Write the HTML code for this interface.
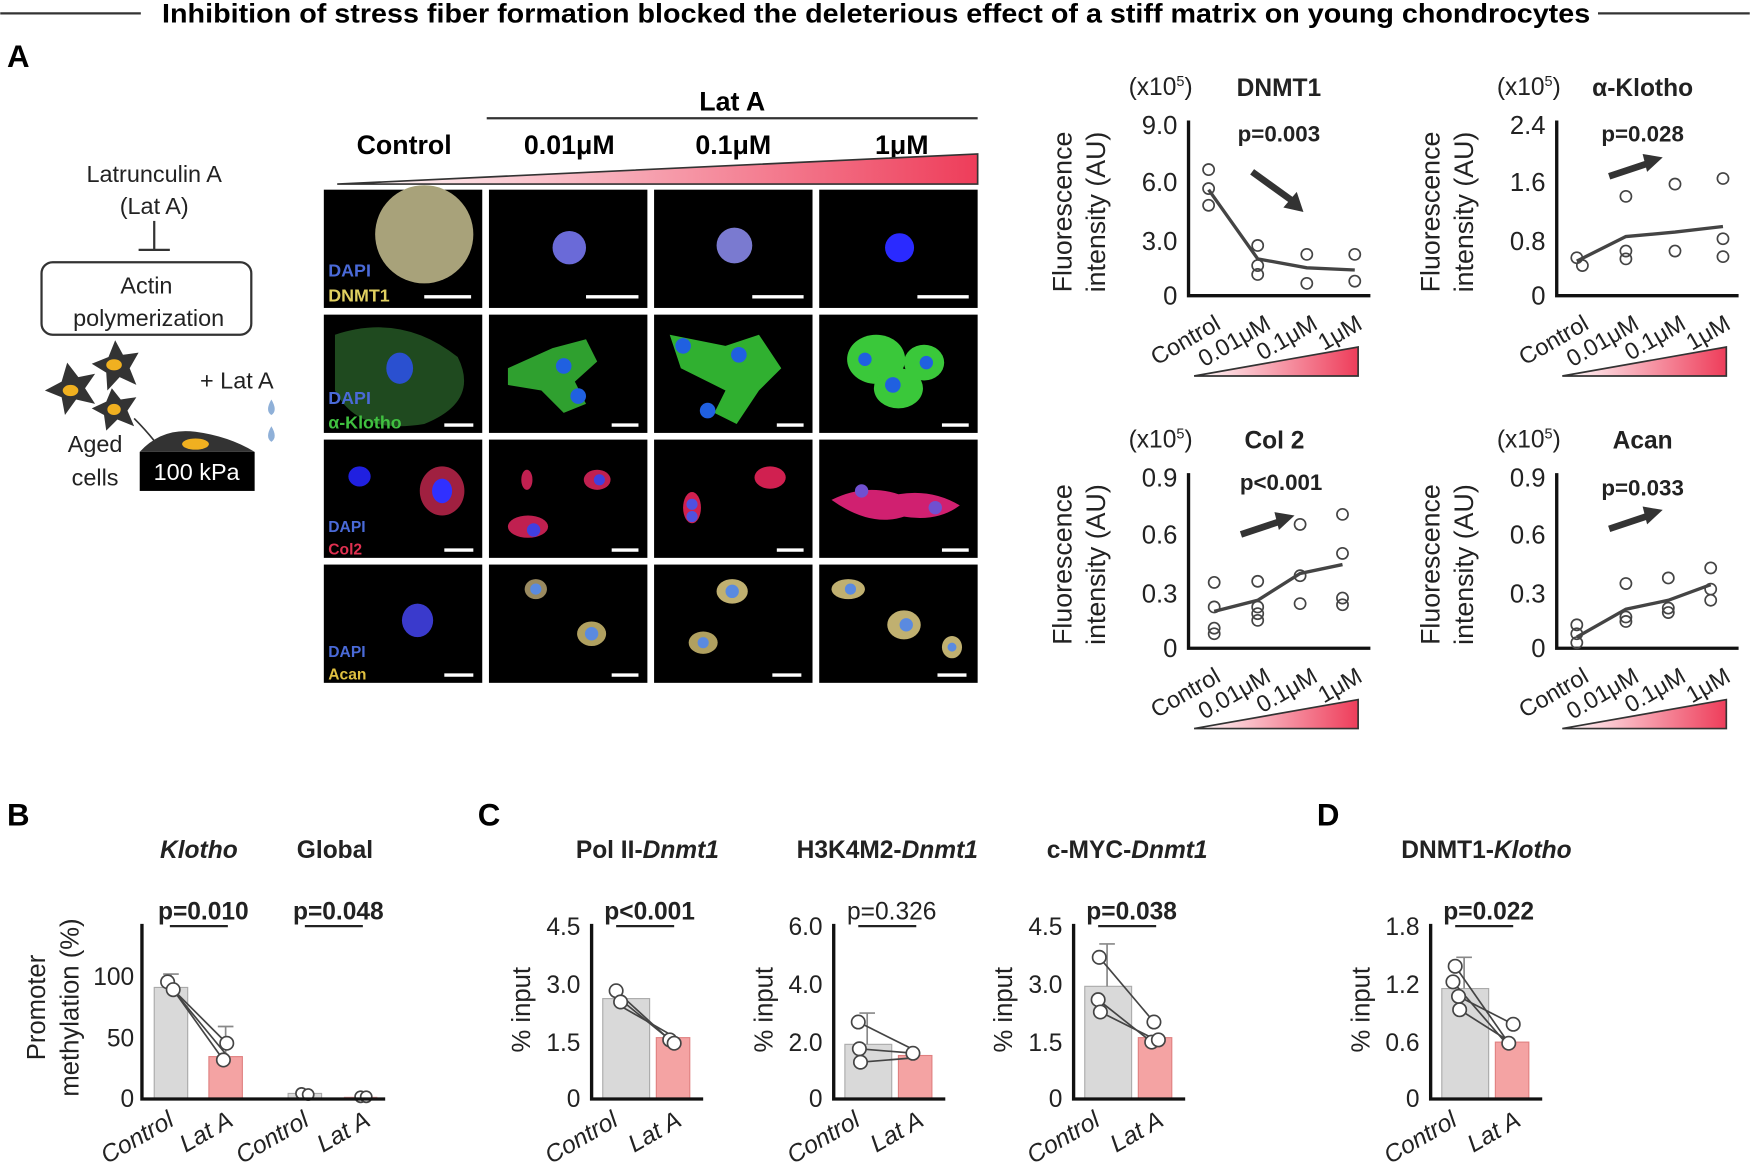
<!DOCTYPE html>
<html><head><meta charset="utf-8"><style>
html,body{margin:0;padding:0;background:#fff;}
svg{display:block;font-family:"Liberation Sans",Arial,sans-serif;}
</style></head><body>
<svg width="1750" height="1176" viewBox="0 0 1568 1054" xmlns="http://www.w3.org/2000/svg">
<defs>
<linearGradient id="g" x1="0" x2="1" y1="0" y2="0"><stop offset="0" stop-color="#fff"/><stop offset="1" stop-color="#ee3d5a"/></linearGradient>
</defs>
<!-- title -->
<line x1="0" y1="12" x2="126" y2="12" stroke="#333" stroke-width="2"/>
<line x1="1432" y1="12" x2="1568" y2="12" stroke="#333" stroke-width="2"/>
<text x="785" y="20" font-size="24" font-weight="bold" text-anchor="middle" textLength="1280" lengthAdjust="spacingAndGlyphs">Inhibition of stress fiber formation blocked the deleterious effect of a stiff matrix on young chondrocytes</text>
<text x="6" y="60" font-size="28" font-weight="bold">A</text>
<text x="6" y="740" font-size="28" font-weight="bold">B</text>
<text x="428" y="740" font-size="28" font-weight="bold">C</text>
<text x="1180" y="740" font-size="28" font-weight="bold">D</text>

<!-- schematic -->
<g font-size="21" text-anchor="middle" fill="#222">
<text x="138" y="163">Latrunculin A</text>
<text x="138" y="192">(Lat A)</text>
<line x1="138" y1="198" x2="138" y2="224" stroke="#333" stroke-width="2"/>
<line x1="124" y1="224" x2="152" y2="224" stroke="#333" stroke-width="2"/>
<rect x="37" y="235" width="188" height="65" rx="10" fill="none" stroke="#333" stroke-width="2"/>
<text x="131" y="263">Actin</text>
<text x="133" y="292">polymerization</text>
<text x="212" y="348">+ Lat A</text>
<text x="85" y="405">Aged</text>
<text x="85" y="435">cells</text>
</g>
<g fill="#333">
<polygon points="60,325 70,338 85,335 76,348 85,362 68,358 58,372 55,356 40,350 55,342"/>
<polygon points="103,305 110,318 124,316 116,330 122,345 107,338 96,350 95,334 82,326 97,320"/>
<polygon points="100,348 108,358 122,356 114,368 120,382 105,376 95,386 93,372 82,366 95,360"/>
</g>
<ellipse cx="63" cy="350" rx="7" ry="5" fill="#f0b020"/><ellipse cx="102" cy="327" rx="7" ry="5" fill="#f0b020"/><ellipse cx="102" cy="367" rx="6" ry="5" fill="#f0b020"/>
<path d="M120 375 q10 10 18 20" fill="none" stroke="#333" stroke-width="1.5"/>
<path d="M243 358 q-6 10 0 14 q6 -4 0 -14z M243 382 q-6 10 0 14 q6 -4 0 -14z" fill="#8fb0d8"/>
<path d="M125 405 q20 -22 50 -18 q30 4 53 18z" fill="#333"/>
<ellipse cx="175" cy="398" rx="12" ry="5" fill="#f0b020"/>
<rect x="125" y="405" width="103" height="35" fill="#000"/>
<text x="176" y="430" font-size="21" fill="#fff" text-anchor="middle">100 kPa</text>

<!-- micro headers -->
<g font-size="24" font-weight="bold" text-anchor="middle">
<text x="656" y="99">Lat A</text>
<text x="362" y="138">Control</text>
<text x="510" y="138">0.01μM</text>
<text x="657" y="138">0.1μM</text>
<text x="808" y="138">1μM</text>
</g>
<line x1="436" y1="106" x2="876" y2="106" stroke="#333" stroke-width="2"/>
<polygon points="302,165 876,138 876,165" fill="url(#g)" stroke="#333" stroke-width="1.5"/>

<!-- micro grid -->
<g>
<rect x="290" y="170" width="142" height="106" fill="#000"/><rect x="438" y="170" width="142" height="106" fill="#000"/><rect x="586" y="170" width="142" height="106" fill="#000"/><rect x="734" y="170" width="142" height="106" fill="#000"/>
<rect x="290" y="282" width="142" height="106" fill="#000"/><rect x="438" y="282" width="142" height="106" fill="#000"/><rect x="586" y="282" width="142" height="106" fill="#000"/><rect x="734" y="282" width="142" height="106" fill="#000"/>
<rect x="290" y="394" width="142" height="106" fill="#000"/><rect x="438" y="394" width="142" height="106" fill="#000"/><rect x="586" y="394" width="142" height="106" fill="#000"/><rect x="734" y="394" width="142" height="106" fill="#000"/>
<rect x="290" y="506" width="142" height="106" fill="#000"/><rect x="438" y="506" width="142" height="106" fill="#000"/><rect x="586" y="506" width="142" height="106" fill="#000"/><rect x="734" y="506" width="142" height="106" fill="#000"/>
</g>
<circle cx="380" cy="210" r="44" fill="#a8a27a"/>
<circle cx="510" cy="222" r="15" fill="#6a6ad8"/><circle cx="658" cy="220" r="16" fill="#7a7ad0"/><circle cx="806" cy="222" r="13" fill="#2a2aff"/>
<path d="M300 300 q60 -20 110 20 q20 40 -30 60 q-60 10 -80 -30z" fill="#1f4a1f"/>
<ellipse cx="358" cy="330" rx="12" ry="14" fill="#2a50d0"/>
<path d="M455 330 l40 -18 l30 -8 l10 20 l-20 18 l10 20 l-20 8 l-20 -20 l-30 -5z" fill="#2fa02f"/>
<circle cx="505" cy="328" r="7" fill="#2060e0"/><circle cx="518" cy="355" r="7" fill="#2060e0"/>
<path d="M600 300 l50 10 l30 -10 l20 30 l-20 20 l-20 30 l-20 -10 l10 -20 l-40 -20z" fill="#30b030"/>
<circle cx="612" cy="310" r="7" fill="#2060e0"/><circle cx="662" cy="318" r="7" fill="#2060e0"/><circle cx="634" cy="368" r="7" fill="#2060e0"/>
<ellipse cx="785" cy="322" rx="26" ry="22" fill="#3ac83a"/><ellipse cx="805" cy="348" rx="22" ry="18" fill="#3ac83a"/><ellipse cx="828" cy="325" rx="18" ry="16" fill="#3ac83a"/>
<circle cx="775" cy="322" r="6" fill="#2060e0"/><circle cx="800" cy="345" r="7" fill="#2060e0"/><circle cx="830" cy="325" r="6" fill="#2060e0"/>
<ellipse cx="322" cy="427" rx="10" ry="9" fill="#2020e0"/><ellipse cx="396" cy="440" rx="20" ry="22" fill="#a02040"/><ellipse cx="396" cy="440" rx="9" ry="11" fill="#3030ff"/>
<ellipse cx="473" cy="472" rx="18" ry="10" fill="#c02050"/><circle cx="478" cy="475" r="6" fill="#4040e0"/><ellipse cx="535" cy="430" rx="12" ry="9" fill="#c02050"/><circle cx="537" cy="430" r="5" fill="#4040e0"/><ellipse cx="472" cy="430" rx="5" ry="9" fill="#c02050"/>
<ellipse cx="620" cy="455" rx="8" ry="14" fill="#d02050"/><circle cx="620" cy="452" r="5" fill="#5050e0"/><circle cx="620" cy="463" r="5" fill="#5050e0"/><ellipse cx="690" cy="428" rx="14" ry="10" fill="#d02050"/>
<path d="M745 448 q30 -15 60 -5 q30 -5 55 10 q-20 15 -50 10 q-30 10 -65 -15z" fill="#d02070"/><circle cx="772" cy="440" r="6" fill="#7050d0"/><circle cx="838" cy="455" r="6" fill="#7050d0"/>
<ellipse cx="374" cy="556" rx="14" ry="15" fill="#3a3acc"/>
<ellipse cx="480" cy="528" rx="10" ry="9" fill="#9a8a60"/><ellipse cx="530" cy="568" rx="13" ry="11" fill="#b0a060"/>
<ellipse cx="656" cy="530" rx="14" ry="11" fill="#c0b070"/><ellipse cx="630" cy="576" rx="13" ry="10" fill="#b0a060"/>
<ellipse cx="760" cy="528" rx="15" ry="9" fill="#c0b070"/><ellipse cx="810" cy="560" rx="15" ry="13" fill="#c0b070"/><ellipse cx="853" cy="580" rx="9" ry="10" fill="#c0b070"/>
<g fill="#5a8ae0"><circle cx="480" cy="528" r="5"/><circle cx="530" cy="568" r="6"/><circle cx="656" cy="530" r="6"/><circle cx="630" cy="576" r="5"/><circle cx="762" cy="528" r="5"/><circle cx="812" cy="560" r="6"/><circle cx="853" cy="580" r="4"/></g>
<g font-size="16" font-weight="bold">
<text x="294" y="248" fill="#4a6ad8">DAPI</text><text x="294" y="270" fill="#e0d060">DNMT1</text>
<text x="294" y="362" fill="#4a6ad8">DAPI</text><text x="294" y="384" fill="#40c040">α-Klotho</text>
<text x="294" y="477" fill="#4a6ad8" font-size="14">DAPI</text><text x="294" y="497" fill="#e03050" font-size="14">Col2</text>
<text x="294" y="589" fill="#4a6ad8" font-size="14">DAPI</text><text x="294" y="609" fill="#e0c040" font-size="14">Acan</text>
</g>
<g stroke="#fff" stroke-width="3">
<line x1="380" y1="266" x2="422" y2="266"/><line x1="525" y1="266" x2="572" y2="266"/><line x1="674" y1="266" x2="720" y2="266"/><line x1="822" y1="266" x2="868" y2="266"/>
<line x1="398" y1="381" x2="424" y2="381"/><line x1="548" y1="381" x2="572" y2="381"/><line x1="696" y1="381" x2="720" y2="381"/><line x1="844" y1="381" x2="868" y2="381"/>
<line x1="398" y1="493" x2="424" y2="493"/><line x1="548" y1="493" x2="572" y2="493"/><line x1="696" y1="493" x2="720" y2="493"/><line x1="844" y1="493" x2="868" y2="493"/>
<line x1="398" y1="605" x2="424" y2="605"/><line x1="548" y1="605" x2="572" y2="605"/><line x1="692" y1="605" x2="718" y2="605"/><line x1="840" y1="605" x2="866" y2="605"/>
</g>

<g font-size="22" fill="#222">
<g>
<text x="1040" y="85" text-anchor="middle">(x10<tspan font-size="13" dy="-8">5</tspan><tspan dy="8">)</tspan></text>
<text x="1146" y="86" text-anchor="middle" font-weight="bold">DNMT1</text>
<text x="1146" y="127" text-anchor="middle" font-weight="bold" font-size="20">p=0.003</text>
<text transform="translate(960,190) rotate(-90)" text-anchor="middle" font-size="24">Fluorescence</text>
<text transform="translate(990,190) rotate(-90)" text-anchor="middle" font-size="24">intensity (AU)</text>
<g text-anchor="end" font-size="23"><text x="1055" y="120">9.0</text><text x="1055" y="171">6.0</text><text x="1055" y="224">3.0</text><text x="1055" y="273">0</text></g>
<path d="M1065 108 V265 H1228" fill="none" stroke="#111" stroke-width="3"/>
<polyline points="1083,170 1127,232 1171,240 1214,242" fill="none" stroke="#444" stroke-width="3"/>
<g fill="none" stroke="#444" stroke-width="1.5"><circle cx="1083" cy="152" r="5"/><circle cx="1083" cy="169" r="5"/><circle cx="1083" cy="184" r="5"/><circle cx="1127" cy="220" r="5"/><circle cx="1127" cy="238" r="5"/><circle cx="1127" cy="246" r="5"/><circle cx="1171" cy="228" r="5"/><circle cx="1171" cy="254" r="5"/><circle cx="1214" cy="228" r="5"/><circle cx="1214" cy="252" r="5"/></g>
<line x1="1122" y1="154" x2="1158" y2="180" stroke="#333" stroke-width="6"/><polygon points="1168,190 1150,186 1162,172" fill="#333"/>
<g font-size="21" text-anchor="end"><text transform="translate(1095,294) rotate(-30)">Control</text><text transform="translate(1140,294) rotate(-30)">0.01μM</text><text transform="translate(1182,294) rotate(-30)">0.1μM</text><text transform="translate(1222,294) rotate(-30)">1μM</text></g>
<polygon points="1070,337 1217,311 1217,337" fill="url(#g)" stroke="#333" stroke-width="1.5"/>
</g>
<g transform="translate(330,0)">
<text x="1040" y="85" text-anchor="middle">(x10<tspan font-size="13" dy="-8">5</tspan><tspan dy="8">)</tspan></text>
<text x="1142" y="86" text-anchor="middle" font-weight="bold">α-Klotho</text>
<text x="1142" y="127" text-anchor="middle" font-weight="bold" font-size="20">p=0.028</text>
<text transform="translate(960,190) rotate(-90)" text-anchor="middle" font-size="24">Fluorescence</text>
<text transform="translate(990,190) rotate(-90)" text-anchor="middle" font-size="24">intensity (AU)</text>
<g text-anchor="end" font-size="23"><text x="1055" y="120">2.4</text><text x="1055" y="171">1.6</text><text x="1055" y="224">0.8</text><text x="1055" y="273">0</text></g>
<path d="M1065 108 V265 H1228" fill="none" stroke="#111" stroke-width="3"/>
<polyline points="1083,234 1127,212 1171,208 1214,203" fill="none" stroke="#444" stroke-width="3"/>
<g fill="none" stroke="#444" stroke-width="1.5"><circle cx="1083" cy="231" r="5"/><circle cx="1088" cy="238" r="5"/><circle cx="1127" cy="176" r="5"/><circle cx="1127" cy="225" r="5"/><circle cx="1127" cy="232" r="5"/><circle cx="1171" cy="165" r="5"/><circle cx="1171" cy="225" r="5"/><circle cx="1214" cy="160" r="5"/><circle cx="1214" cy="214" r="5"/><circle cx="1214" cy="230" r="5"/></g>
<line x1="1112" y1="158" x2="1148" y2="146" stroke="#333" stroke-width="6"/><polygon points="1160,141 1146,154 1142,138" fill="#333"/>
<g font-size="21" text-anchor="end"><text transform="translate(1095,294) rotate(-30)">Control</text><text transform="translate(1140,294) rotate(-30)">0.01μM</text><text transform="translate(1182,294) rotate(-30)">0.1μM</text><text transform="translate(1222,294) rotate(-30)">1μM</text></g>
<polygon points="1070,337 1217,311 1217,337" fill="url(#g)" stroke="#333" stroke-width="1.5"/>
</g>
<g transform="translate(0,316)">
<text x="1040" y="85" text-anchor="middle">(x10<tspan font-size="13" dy="-8">5</tspan><tspan dy="8">)</tspan></text>
<text x="1142" y="86" text-anchor="middle" font-weight="bold">Col 2</text>
<text x="1148" y="123" text-anchor="middle" font-weight="bold" font-size="20">p&lt;0.001</text>
<text transform="translate(960,190) rotate(-90)" text-anchor="middle" font-size="24">Fluorescence</text>
<text transform="translate(990,190) rotate(-90)" text-anchor="middle" font-size="24">intensity (AU)</text>
<g text-anchor="end" font-size="23"><text x="1055" y="120">0.9</text><text x="1055" y="171">0.6</text><text x="1055" y="224">0.3</text><text x="1055" y="273">0</text></g>
<path d="M1065 108 V265 H1228" fill="none" stroke="#111" stroke-width="3"/>
<polyline points="1088,232 1127,222 1165,198 1203,190" fill="none" stroke="#444" stroke-width="3"/>
<g fill="none" stroke="#444" stroke-width="1.5"><circle cx="1088" cy="206" r="5"/><circle cx="1088" cy="228" r="5"/><circle cx="1088" cy="247" r="5"/><circle cx="1088" cy="252" r="5"/><circle cx="1127" cy="205" r="5"/><circle cx="1127" cy="228" r="5"/><circle cx="1127" cy="234" r="5"/><circle cx="1127" cy="240" r="5"/><circle cx="1165" cy="154" r="5"/><circle cx="1165" cy="200" r="5"/><circle cx="1165" cy="225" r="5"/><circle cx="1203" cy="145" r="5"/><circle cx="1203" cy="180" r="5"/><circle cx="1203" cy="220" r="5"/><circle cx="1203" cy="226" r="5"/></g>
<line x1="1112" y1="163" x2="1148" y2="151" stroke="#333" stroke-width="6"/><polygon points="1160,146 1146,159 1142,143" fill="#333"/>
<g font-size="21" text-anchor="end"><text transform="translate(1095,294) rotate(-30)">Control</text><text transform="translate(1140,294) rotate(-30)">0.01μM</text><text transform="translate(1182,294) rotate(-30)">0.1μM</text><text transform="translate(1222,294) rotate(-30)">1μM</text></g>
<polygon points="1070,337 1217,311 1217,337" fill="url(#g)" stroke="#333" stroke-width="1.5"/>
</g>
<g transform="translate(330,316)">
<text x="1040" y="85" text-anchor="middle">(x10<tspan font-size="13" dy="-8">5</tspan><tspan dy="8">)</tspan></text>
<text x="1142" y="86" text-anchor="middle" font-weight="bold">Acan</text>
<text x="1142" y="128" text-anchor="middle" font-weight="bold" font-size="20">p=0.033</text>
<text transform="translate(960,190) rotate(-90)" text-anchor="middle" font-size="24">Fluorescence</text>
<text transform="translate(990,190) rotate(-90)" text-anchor="middle" font-size="24">intensity (AU)</text>
<g text-anchor="end" font-size="23"><text x="1055" y="120">0.9</text><text x="1055" y="171">0.6</text><text x="1055" y="224">0.3</text><text x="1055" y="273">0</text></g>
<path d="M1065 108 V265 H1228" fill="none" stroke="#111" stroke-width="3"/>
<polyline points="1083,255 1127,230 1165,222 1203,208" fill="none" stroke="#444" stroke-width="3"/>
<g fill="none" stroke="#444" stroke-width="1.5"><circle cx="1083" cy="244" r="5"/><circle cx="1083" cy="252" r="5"/><circle cx="1083" cy="260" r="5"/><circle cx="1127" cy="207" r="5"/><circle cx="1127" cy="237" r="5"/><circle cx="1127" cy="241" r="5"/><circle cx="1165" cy="202" r="5"/><circle cx="1165" cy="229" r="5"/><circle cx="1165" cy="233" r="5"/><circle cx="1203" cy="193" r="5"/><circle cx="1203" cy="212" r="5"/><circle cx="1203" cy="222" r="5"/></g>
<line x1="1112" y1="158" x2="1148" y2="146" stroke="#333" stroke-width="6"/><polygon points="1160,141 1146,154 1142,138" fill="#333"/>
<g font-size="21" text-anchor="end"><text transform="translate(1095,294) rotate(-30)">Control</text><text transform="translate(1140,294) rotate(-30)">0.01μM</text><text transform="translate(1182,294) rotate(-30)">0.1μM</text><text transform="translate(1222,294) rotate(-30)">1μM</text></g>
<polygon points="1070,337 1217,311 1217,337" fill="url(#g)" stroke="#333" stroke-width="1.5"/>
</g>
</g>

<!-- Panel B -->
<g font-size="22" fill="#222">
<text x="178" y="769" text-anchor="middle" font-weight="bold" font-style="italic">Klotho</text>
<text x="300" y="769" text-anchor="middle" font-weight="bold">Global</text>
<text x="182" y="824" text-anchor="middle" font-weight="bold">p=0.010</text>
<text x="303" y="824" text-anchor="middle" font-weight="bold">p=0.048</text>
<line x1="152" y1="830" x2="204" y2="830" stroke="#222" stroke-width="2"/>
<line x1="273" y1="830" x2="325" y2="830" stroke="#222" stroke-width="2"/>
<text transform="translate(40,903) rotate(-90)" text-anchor="middle" font-size="23">Promoter</text>
<text transform="translate(70,903) rotate(-90)" text-anchor="middle" font-size="23">methylation (%)</text>
<g text-anchor="end"><text x="120" y="883">100</text><text x="120" y="938">50</text><text x="120" y="992">0</text></g>
<rect x="138" y="885" width="30" height="100" fill="#d9d9d9" stroke="#aaa"/>
<rect x="187" y="947" width="30" height="38" fill="#f4a3a3" stroke="#e08080"/>
<rect x="258" y="980" width="30" height="5" fill="#d9d9d9" stroke="#aaa"/>
<rect x="308" y="983" width="30" height="2" fill="#f4a3a3"/>
<path d="M153 885 V873 M146 873 H160 M202 947 V920 M195 920 H209" stroke="#888" stroke-width="1.5"/>
<g stroke="#444" stroke-width="1.5"><line x1="150" y1="880" x2="200" y2="950"/><line x1="153" y1="885" x2="204" y2="947"/><line x1="156" y1="888" x2="203" y2="935"/></g>
<g fill="#fff" stroke="#444" stroke-width="1.5"><circle cx="150" cy="880" r="6"/><circle cx="155" cy="887" r="6"/><circle cx="200" cy="950" r="6"/><circle cx="203" cy="935" r="6"/><circle cx="270" cy="980" r="5"/><circle cx="276" cy="981" r="5"/><circle cx="323" cy="983" r="5"/><circle cx="328" cy="983" r="5"/></g>
<path d="M127 828 V985 H345" fill="none" stroke="#111" stroke-width="3"/>
<g font-style="italic" text-anchor="end"><text transform="translate(157,1008) rotate(-30)">Control</text><text transform="translate(210,1008) rotate(-30)">Lat A</text><text transform="translate(278,1008) rotate(-30)">Control</text><text transform="translate(333,1008) rotate(-30)">Lat A</text></g>
</g>

<g font-size="22" fill="#222">
<g>
<text x="580" y="769" text-anchor="middle" font-weight="bold">Pol II-<tspan font-style="italic">Dnmt1</tspan></text>
<text x="582" y="824" text-anchor="middle" font-weight="bold">p&lt;0.001</text>
<line x1="552" y1="830" x2="604" y2="830" stroke="#222" stroke-width="2"/>
<text transform="translate(475,905) rotate(-90)" text-anchor="middle" font-size="23">% input</text>
<g text-anchor="end"><text x="520" y="838">4.5</text><text x="520" y="890">3.0</text><text x="520" y="942">1.5</text><text x="520" y="992">0</text></g>
<rect x="540" y="895" width="42" height="90" fill="#d9d9d9" stroke="#aaa"/>
<rect x="588" y="930" width="30" height="55" fill="#f4a3a3" stroke="#e08080"/>
<g stroke="#444" stroke-width="1.5"><line x1="552" y1="888" x2="600" y2="932"/><line x1="556" y1="896" x2="604" y2="935"/><line x1="553" y1="900" x2="602" y2="928"/></g>
<g fill="#fff" stroke="#444" stroke-width="1.5"><circle cx="552" cy="888" r="6"/><circle cx="556" cy="898" r="6"/><circle cx="600" cy="932" r="6"/><circle cx="604" cy="935" r="6"/></g>
<path d="M530 828 V985 H630" fill="none" stroke="#111" stroke-width="3"/>
<g font-style="italic" text-anchor="end"><text transform="translate(555,1008) rotate(-30)">Control</text><text transform="translate(612,1008) rotate(-30)">Lat A</text></g>
</g>
<g transform="translate(217,0)">
<text x="578" y="769" text-anchor="middle" font-weight="bold">H3K4M2-<tspan font-style="italic">Dnmt1</tspan></text>
<text x="582" y="824" text-anchor="middle">p=0.326</text>
<line x1="552" y1="830" x2="604" y2="830" stroke="#222" stroke-width="2"/>
<text transform="translate(475,905) rotate(-90)" text-anchor="middle" font-size="23">% input</text>
<g text-anchor="end"><text x="520" y="838">6.0</text><text x="520" y="890">4.0</text><text x="520" y="942">2.0</text><text x="520" y="992">0</text></g>
<rect x="540" y="936" width="42" height="49" fill="#d9d9d9" stroke="#aaa"/>
<rect x="588" y="946" width="30" height="39" fill="#f4a3a3" stroke="#e08080"/>
<path d="M560 936 V908 M553 908 H567" stroke="#888" stroke-width="1.5"/>
<g stroke="#444" stroke-width="1.5"><line x1="552" y1="916" x2="600" y2="940"/><line x1="553" y1="940" x2="602" y2="944"/><line x1="554" y1="952" x2="603" y2="948"/></g>
<g fill="#fff" stroke="#444" stroke-width="1.5"><circle cx="552" cy="916" r="6"/><circle cx="553" cy="940" r="6"/><circle cx="554" cy="952" r="6"/><circle cx="601" cy="944" r="6"/></g>
<path d="M530 828 V985 H630" fill="none" stroke="#111" stroke-width="3"/>
<g font-style="italic" text-anchor="end"><text transform="translate(555,1008) rotate(-30)">Control</text><text transform="translate(612,1008) rotate(-30)">Lat A</text></g>
</g>
<g transform="translate(432,0)">
<text x="578" y="769" text-anchor="middle" font-weight="bold">c-MYC-<tspan font-style="italic">Dnmt1</tspan></text>
<text x="582" y="824" text-anchor="middle" font-weight="bold">p=0.038</text>
<line x1="552" y1="830" x2="604" y2="830" stroke="#222" stroke-width="2"/>
<text transform="translate(475,905) rotate(-90)" text-anchor="middle" font-size="23">% input</text>
<g text-anchor="end"><text x="520" y="838">4.5</text><text x="520" y="890">3.0</text><text x="520" y="942">1.5</text><text x="520" y="992">0</text></g>
<rect x="540" y="884" width="42" height="101" fill="#d9d9d9" stroke="#aaa"/>
<rect x="588" y="930" width="30" height="55" fill="#f4a3a3" stroke="#e08080"/>
<path d="M560 884 V846 M553 846 H567" stroke="#888" stroke-width="1.5"/>
<g stroke="#444" stroke-width="1.5"><line x1="553" y1="858" x2="602" y2="916"/><line x1="552" y1="896" x2="600" y2="934"/><line x1="554" y1="907" x2="604" y2="932"/></g>
<g fill="#fff" stroke="#444" stroke-width="1.5"><circle cx="553" cy="858" r="6"/><circle cx="552" cy="896" r="6"/><circle cx="554" cy="907" r="6"/><circle cx="602" cy="916" r="6"/><circle cx="600" cy="934" r="6"/><circle cx="606" cy="932" r="6"/></g>
<path d="M530 828 V985 H630" fill="none" stroke="#111" stroke-width="3"/>
<g font-style="italic" text-anchor="end"><text transform="translate(555,1008) rotate(-30)">Control</text><text transform="translate(612,1008) rotate(-30)">Lat A</text></g>
</g>
<g transform="translate(752,0)">
<text x="580" y="769" text-anchor="middle" font-weight="bold">DNMT1-<tspan font-style="italic">Klotho</tspan></text>
<text x="582" y="824" text-anchor="middle" font-weight="bold">p=0.022</text>
<line x1="552" y1="830" x2="604" y2="830" stroke="#222" stroke-width="2"/>
<text transform="translate(475,905) rotate(-90)" text-anchor="middle" font-size="23">% input</text>
<g text-anchor="end"><text x="520" y="838">1.8</text><text x="520" y="890">1.2</text><text x="520" y="942">0.6</text><text x="520" y="992">0</text></g>
<rect x="540" y="886" width="42" height="99" fill="#d9d9d9" stroke="#aaa"/>
<rect x="588" y="934" width="30" height="51" fill="#f4a3a3" stroke="#e08080"/>
<path d="M560 886 V858 M553 858 H567" stroke="#888" stroke-width="1.5"/>
<g stroke="#444" stroke-width="1.5"><line x1="552" y1="866" x2="600" y2="935"/><line x1="550" y1="880" x2="602" y2="940"/><line x1="555" y1="893" x2="604" y2="918"/><line x1="556" y1="905" x2="600" y2="933"/></g>
<g fill="#fff" stroke="#444" stroke-width="1.5"><circle cx="552" cy="866" r="6"/><circle cx="550" cy="880" r="6"/><circle cx="555" cy="893" r="6"/><circle cx="556" cy="905" r="6"/><circle cx="600" cy="935" r="6"/><circle cx="604" cy="918" r="6"/></g>
<path d="M530 828 V985 H630" fill="none" stroke="#111" stroke-width="3"/>
<g font-style="italic" text-anchor="end"><text transform="translate(555,1008) rotate(-30)">Control</text><text transform="translate(612,1008) rotate(-30)">Lat A</text></g>
</g>
</g>
</svg>
</body></html>
